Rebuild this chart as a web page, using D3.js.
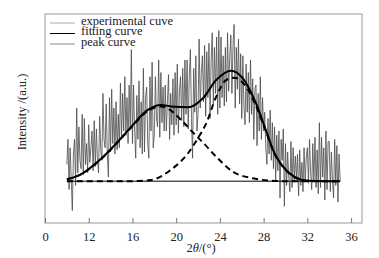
<!DOCTYPE html>
<html><head><meta charset="utf-8">
<script src="https://cdn.jsdelivr.net/npm/d3@7"></script>
<style>body{margin:0;background:#fff}svg{display:block}text{font-family:"Liberation Serif","Times New Roman",serif}</style>
</head><body>
<svg id="c" width="379" height="258"></svg>
<script>
// experimental curve: x from 10.0 to 35.0, step 0.1
const expStart = 10, expStep = 0.1;
const expValues = [
 28,40,16,36,21,6,33,40,18,55,
 24,46,30,26,52,23,50,28,38,24,
 47,29,36,44,25,49,27,45,30,24,
 51,35,30,62,40,36,57,33,22,60,
 34,64,38,55,33,58,35,52,36,67,
 40,62,44,70,42,60,38,66,45,83,
 38,66,44,31,61,40,68,36,58,33,
 74,34,60,65,38,31,70,44,77,36,
 42,70,50,46,78,41,72,48,65,44,
 66,44,58,71,40,62,47,69,42,72,
 47,76,43,63,70,49,74,46,78,52,
 78,45,70,83,50,31,74,53,80,44,
 52,88,55,72,80,58,85,51,82,60,
 86,50,78,91,57,84,62,89,52,92,
 55,89,60,80,56,84,58,91,63,79,
 90,62,85,95,55,84,64,88,57,81,
 50,80,56,47,76,53,72,48,78,52,
 69,40,64,66,37,62,44,70,40,60,
 44,53,36,28,50,33,54,30,48,26,
 46,20,42,25,44,12,40,30,45,8,
 38,18,34,22,15,39,17,36,20,32,
 21,33,13,35,18,29,15,36,20,31,
 36,19,40,24,16,38,20,41,17,35,
 14,48,17,41,22,36,11,44,16,39,
 39,15,34,20,12,40,18,37,10,33,
 20];
const fitX = [10,11.2,13,14.8,15.9,17.4,18.6,19.8,21.1,22.45,23.66,25.03,26.1,27.3,28.2,29.0,29.9,30.8,32.0,33.5,35];
const fitY = [20.9,23.0,30.1,39.7,46.1,54.1,56.5,55.6,55.4,59.7,68.4,72.9,69.2,57.3,44.5,33.3,26.2,22.2,20.2,20.0,20.0];
const peak1X = [10,11.2,13,14.8,15.9,17.4,18.6,19.3,20.45,21.5,22.45,23.66,25.2,27.0,28.5,30,35];
const peak1Y = [20.9,23.0,30.0,39.5,45.8,53.6,55.8,54.6,49.3,43.5,38.5,31.7,24.5,21.4,20.3,20,20];
const peak2X = [10,15.9,17.7,19.5,21.1,22.0,22.75,23.66,24.57,25.3,26.4,27.3,28.2,29.0,29.9,30.8,32.0,35];
const peak2Y = [20,20,20.6,25.4,33.5,40.7,47.7,60.4,68.4,69.5,65.2,56,44,33,26,22,20.2,20];
const baseline = 20;
const tickValues = [8,12,16,20,24,28,32,36];
const tickLabels = ["0","12","16","20","24","28","32","36"];
const legendLabels = ["experimental cuve","fitting curve","peak curve"];

const svg = d3.select("#c");
const L=45,R=362,T=14,B=223;
const x = d3.scaleLinear().domain([8,37]).range([L,R]);
const y = d3.scaleLinear().domain([0,100]).range([B,T]);

const expData = expValues.map((v,i)=>[expStart+i*expStep, v]);
const line = d3.line().x(d=>x(d[0])).y(d=>y(d[1]));
const smooth = d3.line().x(d=>x(d[0])).y(d=>y(d[1])).curve(d3.curveMonotoneX);

svg.append("path").attr("d", line(expData)).attr("fill","none")
  .attr("stroke","#4a4a4a").attr("stroke-width",0.8);

svg.append("line").attr("x1",x(10)).attr("x2",x(35)).attr("y1",y(baseline)).attr("y2",y(baseline))
  .attr("stroke","#000").attr("stroke-width",1);

svg.append("path").attr("d", smooth(fitX.map((v,i)=>[v,fitY[i]]))).attr("fill","none")
  .attr("stroke","#000").attr("stroke-width",2);
[[peak1X,peak1Y],[peak2X,peak2Y]].forEach(([px,py])=>{
  svg.append("path").attr("d", smooth(px.map((v,i)=>[v,py[i]]))).attr("fill","none")
    .attr("stroke","#000").attr("stroke-width",2).attr("stroke-dasharray","6,4");
});

// frame
svg.append("rect").attr("x",L).attr("y",T).attr("width",R-L).attr("height",B-T)
  .attr("fill","none").attr("stroke","#999").attr("stroke-width",1);

const ax = d3.axisBottom(x).tickValues(tickValues).tickSize(-5).tickPadding(9)
  .tickFormat((d,i)=>tickLabels[i]);
const g = svg.append("g").attr("transform",`translate(0,${B})`).call(ax);
g.select(".domain").remove();
g.selectAll(".tick line").attr("stroke","#777");
g.selectAll(".tick text").attr("font-size",12.5).attr("fill","#222")
  .attr("font-family","Liberation Serif, serif");

// legend
const lg = svg.append("g");
const legColors = ["#aaa","#000","#888"];
const legY = [23,33.5,44];
legendLabels.forEach((t,i)=>{
  lg.append("line").attr("x1",50).attr("x2",75).attr("y1",legY[i]).attr("y2",legY[i])
    .attr("stroke",legColors[i]).attr("stroke-width",1);
  lg.append("text").attr("x",81).attr("y",legY[i]+1.5).attr("font-size",12.5).attr("fill","#222").text(t);
});

// axis titles
svg.append("text").attr("transform","translate(26,112) rotate(-90)").attr("text-anchor","middle")
  .attr("font-size",12.5).attr("fill","#222").text("Intensity /(a.u.)");
const xt = svg.append("text").attr("x",201).attr("y",252).attr("text-anchor","middle")
  .attr("font-size",12.5).attr("fill","#222");
xt.append("tspan").text("2");
xt.append("tspan").attr("font-style","italic").text("θ");
xt.append("tspan").text("/(°)");
</script>
</body></html>
